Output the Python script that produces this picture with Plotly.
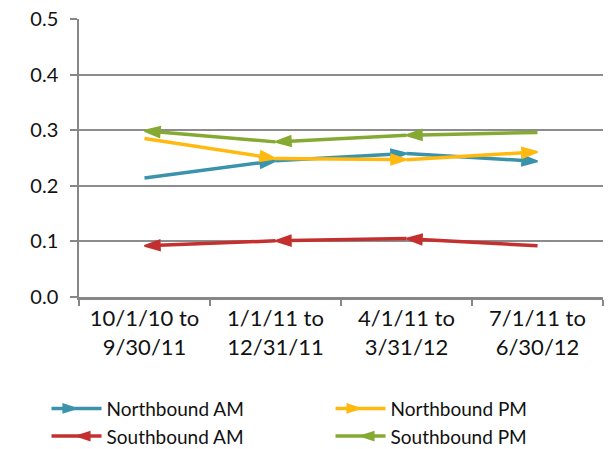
import plotly.graph_objects as go

categories = ["10/1/10 to<br>9/30/11", "1/1/11 to<br>12/31/11", "4/1/11 to<br>3/31/12", "7/1/11 to<br>6/30/12"]
northbound_am = [0.214, 0.245, 0.258, 0.244]
northbound_pm = [0.285, 0.249, 0.247, 0.261]
southbound_am = [0.092, 0.101, 0.105, 0.092]
southbound_pm = [0.299, 0.279, 0.291, 0.296]
y_ticks = [0.0, 0.1, 0.2, 0.3, 0.4, 0.5]
y_tick_labels = ["0.0", "0.1", "0.2", "0.3", "0.4", "0.5"]

C_NAM = "#3A93AB"
C_NPM = "#FFB90F"
C_SAM = "#C4302F"
C_SPM = "#85AA34"
FONT = "Lato, 'Open Sans', sans-serif"

fig = go.Figure()

def add_series(name, values, color, forward):
    xs = list(categories)
    ys = list(values)
    if not forward:
        xs = xs[::-1]
        ys = ys[::-1]
    sizes = [0] + [16] * (len(ys) - 1)
    fig.add_trace(go.Scatter(
        x=xs, y=ys, mode="lines+markers", name=name, showlegend=False,
        line=dict(color=color, width=3.5),
        marker=dict(symbol="arrow", size=sizes, angleref="previous", opacity=1,
                    color=color, line=dict(color=color, width=2)),
        cliponaxis=False,
    ))

add_series("Northbound AM", northbound_am, C_NAM, True)
add_series("Northbound PM", northbound_pm, C_NPM, True)
add_series("Southbound AM", southbound_am, C_SAM, False)
add_series("Southbound PM", southbound_pm, C_SPM, False)

# legend entries
for name, color, ang in [("Northbound AM", C_NAM, 90), ("Northbound PM", C_NPM, 90),
                         ("Southbound AM", C_SAM, -90), ("Southbound PM", C_SPM, -90)]:
    fig.add_trace(go.Scatter(
        x=[None], y=[None], mode="lines+markers", name=name,
        line=dict(color=color, width=3.5),
        marker=dict(symbol="arrow", size=14, angle=ang, color=color, opacity=1,
                    line=dict(color=color, width=1.5)),
    ))

fig.update_layout(
    width=604, height=441,
    margin=dict(l=71, r=9, t=11, b=152, autoexpand=False),
    paper_bgcolor="white", plot_bgcolor="white",
    font=dict(family=FONT, size=20, color="#111111"),
    showlegend=True,
    legend=dict(orientation="h", x=-0.062, y=-0.333, xanchor="left", yanchor="top",
                font=dict(size=19, family=FONT), entrywidth=219, entrywidthmode="pixels",
                itemwidth=50, tracegroupgap=0, traceorder="normal",
                bgcolor="rgba(0,0,0,0)"),
    xaxis=dict(
        type="category", categoryorder="array", categoryarray=categories,
        showgrid=False, showline=True, linecolor="#878787", linewidth=2.5,
        ticks="outside", tickson="boundaries", ticklen=6, tickcolor="#878787", tickwidth=2,
        tickfont=dict(size=22, family=FONT), range=[-0.5, 3.5],
    ),
    yaxis=dict(
        range=[0, 0.5], tickvals=y_ticks, ticktext=y_tick_labels,
        showgrid=True, gridcolor="#8C8C8C", gridwidth=1.5,
        showline=True, linecolor="#878787", linewidth=1.5,
        ticks="outside", ticklen=7, tickcolor="#878787", tickwidth=1.5,
        ticklabelstandoff=8, ticklabeloverflow="allow",
        tickfont=dict(size=20, family=FONT), zeroline=False,
    ),
)

fig.write_html("out.html")
